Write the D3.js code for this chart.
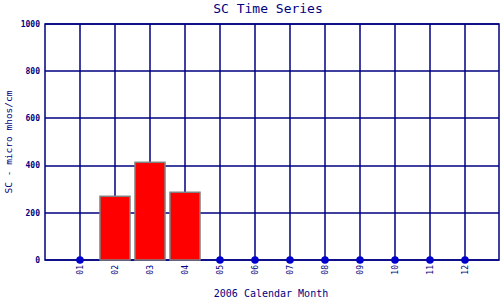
<!DOCTYPE html>
<html><head><meta charset="utf-8">
<script src="https://cdn.jsdelivr.net/npm/d3@7"></script>
<style>body{margin:0;background:#fff}svg{display:block}</style>
</head><body>
<script>
const months = ["01","02","03","04","05","06","07","08","09","10","11","12"];
const values = [0, 270, 414, 287, 0, 0, 0, 0, 0, 0, 0, 0];
const yTicks = [0, 200, 400, 600, 800, 1000];
const title = "SC Time Series";
const xTitle = "2006 Calendar Month";
const yTitle = "SC - micro mhos/cm";

const W = 500, H = 300;
const m = {left: 45, right: 0, top: 24, bottom: 40};
const navy = "#000080";
const lw = 1.5;
const svg = d3.select("body").append("svg").attr("width", W).attr("height", H);

const x = d3.scaleLinear().domain([0, 13]).range([m.left, W - m.right]);
const y = d3.scaleLinear().domain([0, 1000]).range([H - m.bottom, m.top]);
const px = v => Math.round(v);

// grid
svg.append("g").selectAll("line").data(yTicks).join("line")
  .attr("x1", px(x(0))).attr("x2", px(x(13) - 1)).attr("y1", d => px(y(d))).attr("y2", d => px(y(d)))
  .attr("stroke", navy).attr("stroke-width", lw);
svg.append("g").selectAll("line").data(months).join("line")
  .attr("x1", (d, i) => px(x(i + 1))).attr("x2", (d, i) => px(x(i + 1)))
  .attr("y1", px(y(0))).attr("y2", px(y(1000)))
  .attr("stroke", navy).attr("stroke-width", lw);
// frame
svg.append("rect").attr("x", px(x(0))).attr("y", px(y(1000)))
  .attr("width", Math.round(x(13) - 1) - Math.round(x(0))).attr("height", Math.round(y(0)) - Math.round(y(1000)))
  .attr("fill", "none").attr("stroke", navy).attr("stroke-width", lw);

// bars
const data = months.map((mo, i) => ({mo, i, v: values[i]}));
const bw = 30;
svg.append("g").selectAll("rect").data(data.filter(d => d.v > 0)).join("rect")
  .attr("x", d => x(d.i + 1) - bw / 2).attr("width", bw)
  .attr("y", d => y(d.v)).attr("height", d => y(0) - y(d.v))
  .attr("fill", "#ff0000").attr("stroke", "#808080").attr("stroke-width", 1.5);

// zero dots
svg.append("g").selectAll("circle").data(data.filter(d => d.v === 0)).join("circle")
  .attr("cx", d => px(x(d.i + 1))).attr("cy", d => px(y(d.v))).attr("r", 3.8)
  .attr("fill", "#0000cc");

// y tick labels
svg.append("g").selectAll("text").data(yTicks).join("text")
  .attr("x", 40).attr("y", d => y(d)).attr("dy", "0.35em")
  .attr("text-anchor", "end").attr("font-family", "DejaVu Sans Mono").attr("font-weight", "bold")
  .attr("font-size", 8).attr("fill", navy).text(d => d);

// x tick labels rotated
svg.append("g").selectAll("text").data(months).join("text")
  .attr("transform", (d, i) => `translate(${x(i + 1) + 3},${y(0) + 5}) rotate(-90)`)
  .attr("text-anchor", "end").attr("font-family", "DejaVu Sans Mono")
  .attr("font-size", 8).attr("fill", navy).text(d => d);

// titles
svg.append("text").attr("x", 268).attr("y", 13).attr("text-anchor", "middle")
  .attr("font-family", "DejaVu Sans Mono").attr("font-size", 13).attr("fill", navy).text(title);
svg.append("text").attr("x", 271).attr("y", 297).attr("text-anchor", "middle")
  .attr("font-family", "DejaVu Sans Mono").attr("font-size", 10).attr("fill", navy).text(xTitle);
svg.append("text").attr("transform", "translate(12,142) rotate(-90)").attr("text-anchor", "middle")
  .attr("font-family", "DejaVu Sans Mono").attr("font-size", 9.5).attr("fill", navy).text(yTitle);
</script>
</body></html>
